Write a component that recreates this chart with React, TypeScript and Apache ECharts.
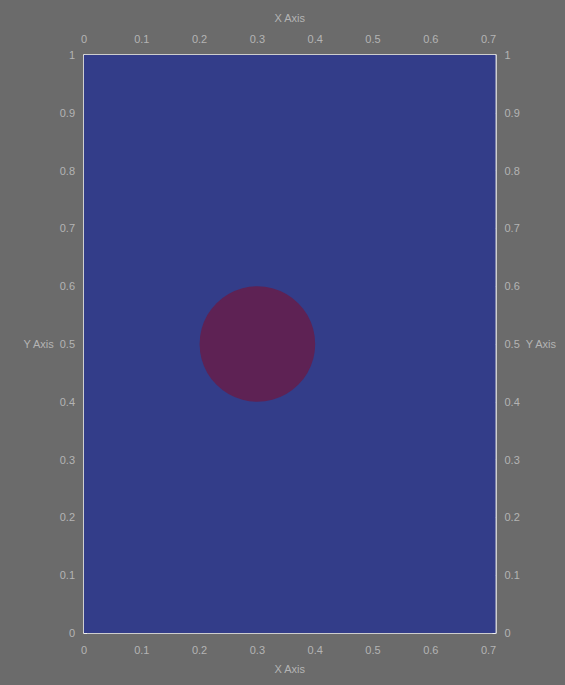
import React, { useEffect, useRef } from "react";
import * as echarts from "echarts";

const xDomain = [0, 0.712];
const yDomain = [0, 1];
const xTicks = [0, 0.1, 0.2, 0.3, 0.4, 0.5, 0.6, 0.7];
const yTicks = [0, 0.1, 0.2, 0.3, 0.4, 0.5, 0.6, 0.7, 0.8, 0.9, 1];
// circle: [centerX, centerY, radius]
const circles = [[0.3, 0.5, 0.1]];
// background region: [x0, y0, x1, y1]
const regions = [[0, 0, 0.712, 1]];

const BG = "#6b6b6b";
const BLUE = "#333d89";
const CIRCLE = "#5e2254";
const TEXT = "#b4b4b4";
const LINE = "#f0f0f0";
const FONT = "Liberation Sans";

const fmt = (v: number) => {
  const k = Math.round(v * 10);
  if (Math.abs(v * 10 - k) > 1e-6) return "";
  return String(+(k / 10).toFixed(1));
};

export default function App() {
  const ref = useRef<HTMLDivElement>(null);
  useEffect(() => {
    if (!ref.current) return;
    const chart = echarts.init(ref.current, null, { renderer: "svg" });
    const xAxisBase = (pos: "top" | "bottom") => ({
      type: "value",
      position: pos,
      min: xDomain[0],
      max: xDomain[1],
      interval: 0.1,
      name: "X Axis",
      nameLocation: "middle",
      nameGap: pos === "top" ? 32 : 30,
      nameTextStyle: { color: TEXT, fontSize: 11, fontFamily: FONT },
      axisLine: { show: true, onZero: false, lineStyle: { color: LINE, width: 1.5 } },
      axisTick: { show: true, inside: true, length: 3, lineStyle: { color: LINE } },
      axisLabel: { color: TEXT, fontSize: 11, fontFamily: FONT, margin: 11, formatter: fmt, showMaxLabel: false },
      splitLine: { show: false },
    });
    const yAxisBase = (pos: "left" | "right") => ({
      type: "value",
      position: pos,
      min: yDomain[0],
      max: yDomain[1],
      interval: 0.1,
      name: "Y Axis",
      nameLocation: "middle",
      nameRotate: 0,
      nameGap: pos === "left" ? 29 : 22,
      nameTextStyle: { color: TEXT, fontSize: 11, fontFamily: FONT },
      axisLine: { show: true, onZero: false, lineStyle: { color: LINE, width: 1.5 } },
      axisTick: { show: true, inside: true, length: 3, lineStyle: { color: LINE } },
      axisLabel: { color: TEXT, fontSize: 11, fontFamily: FONT, margin: 9, formatter: fmt },
      splitLine: { show: false },
    });
    chart.setOption({
      animation: false,
      backgroundColor: BG,
      grid: { left: 84, right: 69.5, top: 55, bottom: 52, containLabel: false },
      xAxis: [xAxisBase("bottom"), xAxisBase("top")],
      yAxis: [yAxisBase("left"), yAxisBase("right")],
      series: [
        {
          type: "custom",
          xAxisIndex: 0,
          yAxisIndex: 0,
          silent: true,
          data: regions,
          renderItem: (params: any, api: any) => {
            const p0 = api.coord([api.value(0), api.value(1)]);
            const p1 = api.coord([api.value(2), api.value(3)]);
            return {
              type: "rect",
              shape: { x: p0[0], y: p1[1], width: p1[0] - p0[0], height: p0[1] - p1[1] },
              style: { fill: BLUE },
            };
          },
        },
        {
          type: "custom",
          xAxisIndex: 0,
          yAxisIndex: 0,
          silent: true,
          data: circles,
          renderItem: (params: any, api: any) => {
            const c = api.coord([api.value(0), api.value(1)]);
            const s = api.size([api.value(2), api.value(2)]);
            return {
              type: "circle",
              shape: { cx: c[0], cy: c[1], r: s[0] },
              style: { fill: CIRCLE },
            };
          },
        },
      ],
    });
    return () => chart.dispose();
  }, []);
  return <div ref={ref} style={{ width: 565, height: 685, position: "fixed", left: 0, top: 0 }} />;
}
